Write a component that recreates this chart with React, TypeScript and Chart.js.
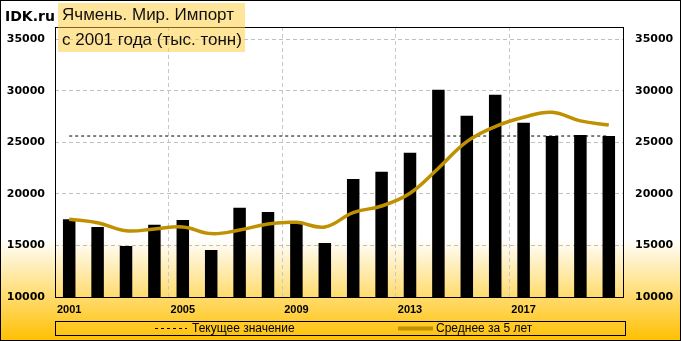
import React, { useEffect, useRef } from "react";
import { Chart, registerables } from "chart.js";

Chart.register(...registerables);

const years = ["2001","2002","2003","2004","2005","2006","2007","2008","2009","2010","2011","2012","2013","2014","2015","2016","2017","2018","2019","2020"];
const importValues = [17550, 16800, 14950, 17000, 17480, 14570, 18670, 18250, 17300, 15250, 21450, 22150, 24000, 30100, 27580, 29620, 26900, 25620, 25730, 25620];
const avg5Values = [17550, 17200, 16420, 16600, 16800, 16150, 16500, 17090, 17250, 16800, 18190, 18830, 20070, 22500, 25080, 26540, 27440, 27930, 27090, 26700];
const currentValue = 25620;
const yTicks = [10000, 15000, 20000, 25000, 30000, 35000];
const titleLines = ["Ячмень. Мир. Импорт", "с 2001 года (тыс. тонн)"];
const legendLabels = ["Текущее значение", "Среднее за 5 лет"];

const GOLD = "#BF9000";

export default function App() {
  const ref = useRef<HTMLCanvasElement | null>(null);
  useEffect(() => {
    document.body.style.margin = "0";
    const canvas = ref.current!;
    const bgPlugin = {
      id: "bg",
      beforeDraw(chart: any) {
        const { ctx, width, height } = chart;
        ctx.save();
        const g = ctx.createLinearGradient(0, 0, 0, height);
        g.addColorStop(0, "#FFFFFF");
        g.addColorStop(0.7, "#FFFFFF");
        g.addColorStop(1, "#FFC000");
        ctx.fillStyle = g;
        ctx.fillRect(0, 0, width, height);
        ctx.restore();
      },
      afterDraw(chart: any) {
        const { ctx, width, height, chartArea } = chart;
        ctx.save();
        ctx.strokeStyle = "#000";
        ctx.lineWidth = 1;
        ctx.setLineDash([]);
        ctx.strokeRect(0.5, 0.5, width - 1, height - 1);
        ctx.strokeRect(Math.round(chartArea.left) + 0.5, Math.round(chartArea.top) + 0.5, Math.round(chartArea.right - chartArea.left), Math.round(chartArea.bottom - chartArea.top));
        // legend box
        const lx = 55, ly = 321, lw = 570, lh = 14;
        ctx.strokeRect(lx + 0.5, ly + 0.5, lw, lh);
        const cy = ly + lh / 2 + 0.5;
        ctx.beginPath();
        ctx.setLineDash([3, 3]);
        ctx.moveTo(155, cy);
        ctx.lineTo(187, cy);
        ctx.stroke();
        ctx.setLineDash([]);
        ctx.strokeStyle = GOLD;
        ctx.lineWidth = 4;
        ctx.beginPath();
        ctx.moveTo(398, cy);
        ctx.lineTo(433, cy);
        ctx.stroke();
        ctx.fillStyle = "#000";
        ctx.font = "12px 'Liberation Sans', sans-serif";
        ctx.textBaseline = "middle";
        ctx.textAlign = "left";
        ctx.fillText(legendLabels[0], 192, cy);
        ctx.fillText(legendLabels[1], 436, cy);
        ctx.restore();
      },
    };
    const chart = new Chart(canvas, {
      type: "bar",
      data: {
        labels: years,
        datasets: [
          {
            type: "line",
            label: legendLabels[1],
            data: avg5Values,
            borderColor: GOLD,
            borderWidth: 3.5,
            pointRadius: 0,
            tension: 0.4,
            fill: false,
            order: 0,
          },
          {
            type: "line",
            label: legendLabels[0],
            data: years.map(() => currentValue),
            borderColor: "#000",
            borderWidth: 1,
            borderDash: [3, 3],
            pointRadius: 0,
            fill: false,
            order: 1,
          },
          {
            type: "bar",
            label: "Импорт",
            data: importValues,
            backgroundColor: "#000",
            barPercentage: 0.44,
            categoryPercentage: 1,
            order: 2,
          },
        ],
      },
      options: {
        responsive: false,
        animation: false,
        layout: { padding: { top: 27, left: 0, right: 0, bottom: 0 } },
        plugins: { legend: { display: false }, title: { display: false }, tooltip: { enabled: false } },
        scales: {
          x: {
            offset: true,
            grid: {
              offset: true,
              drawTicks: false,
              color: (c: any) => (c.index % 4 === 0 && c.index > 0 && c.index < years.length ? "#C8C8C8" : "rgba(0,0,0,0)"),
              lineWidth: 1,
            },
            border: { display: false, dash: [4, 3] },
            ticks: {
              autoSkip: false,
              maxRotation: 0,
              padding: 6,
              color: "#000",
              font: { family: "'Liberation Sans', sans-serif", size: 11, weight: "bold" },
              callback: (_v: any, i: number) => (i % 4 === 0 ? years[i] : ""),
            },
            afterFit: (s: any) => { s.height = 44; },
          },
          y: {
            position: "left",
            min: 10000,
            max: 36200,
            afterBuildTicks: (s: any) => { s.ticks = yTicks.map((v) => ({ value: v })); },
            grid: {
              drawTicks: false,
              color: (c: any) => (c.tick && c.tick.value === 10000 ? "rgba(0,0,0,0)" : "#C0C0C0"),
            },
            border: { display: false, dash: [4, 3] },
            ticks: {
              padding: 10,
              color: "#000",
              font: { family: "'DejaVu Sans', sans-serif", size: 11, weight: "bold" },
              callback: (v: any) => String(v),
            },
            afterFit: (s: any) => { s.width = 55; },
          },
          y2: {
            position: "right",
            min: 10000,
            max: 36200,
            afterBuildTicks: (s: any) => { s.ticks = yTicks.map((v) => ({ value: v })); },
            grid: { display: false, drawTicks: false },
            border: { display: false },
            ticks: {
              padding: 12,
              color: "#000",
              font: { family: "'DejaVu Sans', sans-serif", size: 11, weight: "bold" },
              callback: (v: any) => String(v),
            },
            afterFit: (s: any) => { s.width = 58; },
          },
        },
      },
      plugins: [bgPlugin],
    } as any);
    return () => chart.destroy();
  }, []);

  return (
    <div style={{ position: "relative", width: 681, height: 341 }}>
      <canvas ref={ref} width={681} height={341} style={{ display: "block" }} />
      <div
        style={{
          position: "absolute",
          left: 5,
          top: 6,
          font: "bold 14px 'DejaVu Sans', sans-serif",
          color: "#000",
          lineHeight: "20px",
        }}
      >
        IDK.ru
      </div>
      <div
        style={{
          position: "absolute",
          left: 58,
          top: 3,
          width: 187,
          background: "rgba(255,204,51,0.5)",
          font: "17px 'Liberation Sans', sans-serif",
          color: "#111",
          lineHeight: "24.5px",
          paddingLeft: 4,
          boxSizing: "border-box",
          whiteSpace: "nowrap",
        }}
      >
        <div>{titleLines[0]}</div>
        <div>{titleLines[1]}</div>
      </div>
    </div>
  );
}
